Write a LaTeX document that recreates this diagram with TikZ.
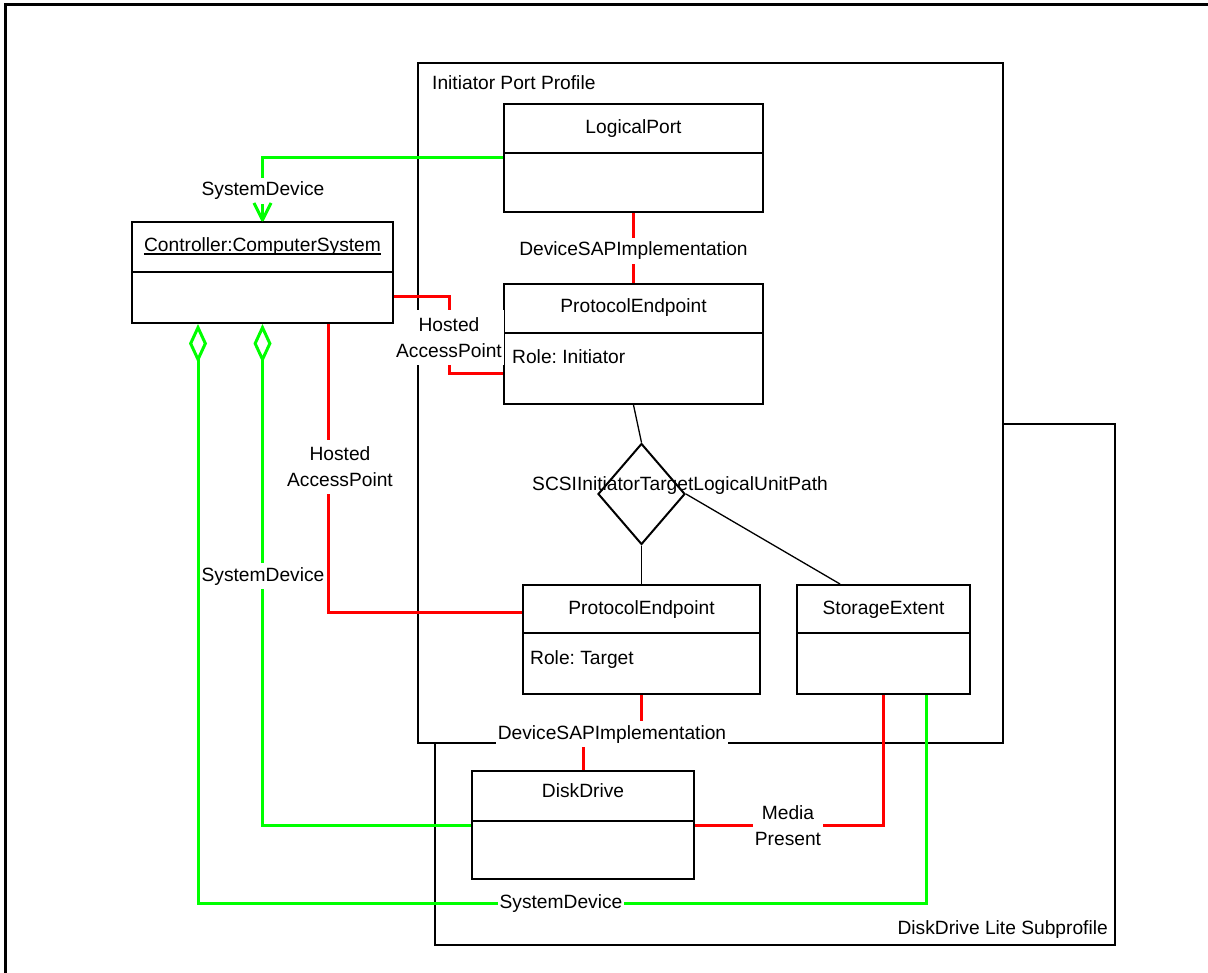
\documentclass[tikz,border=0pt]{standalone}
\usepackage{fontspec}
\setmainfont{Liberation Sans}
\usetikzlibrary{arrows.meta,shapes.geometric}
\pgfdeclarelayer{frames}
\pgfdeclarelayer{edges}
\pgfsetlayers{frames,edges,main}
\definecolor{assocred}{RGB}{255,0,0}
\definecolor{sysgreen}{RGB}{0,255,0}
\frenchspacing
\begin{document}
\begin{tikzpicture}[x=1pt,y=-1pt,
  font=\fontsize{19.2}{26}\selectfont,
  classbox/.style={draw=black, line width=2pt, fill=white, inner sep=0pt},
  region/.style={draw=black, line width=2pt, fill=white, inner sep=0pt},
  title/.style={inner sep=0pt, text height=14pt, text depth=4pt},
  lbl/.style={fill=white, inner xsep=2pt, inner ysep=4pt, text height=14pt, text depth=4pt},
  lbltwo/.style={fill=white, inner xsep=2pt, inner ysep=7pt, align=center},
  redline/.style={draw=assocred, line width=3pt},
  greenline/.style={draw=sysgreen, line width=3pt},
  pathline/.style={draw=black, line width=1.3pt},
  divider/.style={draw=black, line width=2pt},
  aggr/.style={{Diamond[open,length=39pt,width=18pt]}-},
]
\useasboundingbox (0,0) rectangle (1208,973);

% profile regions and the outer frame
\begin{pgfonlayer}{frames}
  \draw[line width=3pt] (5,973) -- (5,5) -- (1208,5);
  \node[region, minimum width=680pt, minimum height=521pt] (lite) at (775,684.5) {};
  \node[region, minimum width=585pt, minimum height=680pt] (ipp) at (710.5,403) {};
\end{pgfonlayer}

\node[title, anchor=west] (ippt) at (432,85) {Initiator Port Profile};
\node[title, anchor=east] (litet) at (1108,929) {DiskDrive Lite Subprofile};

% classes
\node[classbox, minimum width=261pt, minimum height=101pt] (cs)  at (262.5,272.5) {};
\node[classbox, minimum width=259pt, minimum height=108pt] (lp)  at (633.5,158) {};
\node[classbox, minimum width=259pt, minimum height=120pt] (pe1) at (633.5,344) {};
\node[classbox, minimum width=237pt, minimum height=109pt] (pe2) at (641.5,639.5) {};
\node[classbox, minimum width=173pt, minimum height=109pt] (se)  at (883.5,639.5) {};
\node[classbox, minimum width=222pt, minimum height=108pt] (dd)  at (583,825) {};

\foreach \b/\y in {cs/272, lp/153, pe1/333, pe2/633, se/633, dd/821}
  \draw[divider] (\b.west |- 0,\y) -- (\b.east |- 0,\y);

\node[title] (cst) at (262.5,247) {Controller:ComputerSystem};
\draw[line width=1.2pt] ([yshift=-2pt]cst.base west) -- ([yshift=-2pt]cst.base east);
\node[title] (lpt)  at (633.5,129) {LogicalPort};
\node[title] (pe1t) at (633.5,308) {ProtocolEndpoint};
\node[title, anchor=west] (pe1r) at (512,359) {Role: Initiator};
\node[title] (pe2t) at (641.5,609) {ProtocolEndpoint};
\node[title, anchor=west] (pe2r) at (530,659) {Role: Target};
\node[title] (set)  at (883.5,609) {StorageExtent};
\node[title] (ddt)  at (583,792) {DiskDrive};

% association class diamond
\node[draw, line width=2pt, fill=white, diamond, inner sep=0pt,
      minimum width=87pt, minimum height=101pt] (scsi) at (641.5,494) {};
\node[title] (scsil) at (680,485.5) {SCSIInitiatorTargetLogicalUnitPath};

% association labels
\node[lbl] (sd1) at (263,191) {SystemDevice};
\node[lbl] (sd2) at (263,576) {SystemDevice};
\node[lbl] (sd3) at (561,903) {SystemDevice};
\node[lbl] (dsap1) at (633.5,251) {DeviceSAPImplementation};
\node[lbl] (dsap2) at (612,734) {DeviceSAPImplementation};
\node[lbltwo] (hap1) at (449,337.5) {Hosted\\AccessPoint};
\node[lbltwo] (hap2) at (340,467) {Hosted\\AccessPoint};
\node[lbltwo] (mp) at (788,825.5) {Media\\Present};

% associations
\begin{pgfonlayer}{edges}
  \draw[greenline] (lp.west) -| (cs.north);
  \draw[greenline, aggr] (cs.south) |- (dd.west);
  \draw[greenline, aggr] ([xshift=-64.5pt]cs.south) |- (sd3.center) -| ([xshift=42.5pt]se.south);
  \draw[redline] (lp.south) -- (pe1.north);
  \draw[redline] (pe2.south) |- (dsap2.center) -| (dd.north);
  \draw[redline] ([yshift=-24.5pt]cs.east) -| (hap1.center) |- ([yshift=-30pt]pe1.west);
  \draw[redline] ([xshift=65.5pt]cs.south) |- ([yshift=27.5pt]pe2.west);
  \draw[redline] (dd.east) -| (se.south);
  \draw[pathline] (pe1.south) -- (scsi.north);
  \draw[pathline] (scsi.south) -- (pe2.north);
  \draw[pathline] (scsi.east) -- ([xshift=-43.5pt]se.north);
\end{pgfonlayer}
% open navigation arrowhead of SystemDevice at the controller
\draw[greenline, line join=round]
  ([shift={(-8.5pt,18pt)}]cs.north) -- ([yshift=1pt]cs.north) -- ([shift={(8.5pt,18pt)}]cs.north);
\end{tikzpicture}
\end{document}
